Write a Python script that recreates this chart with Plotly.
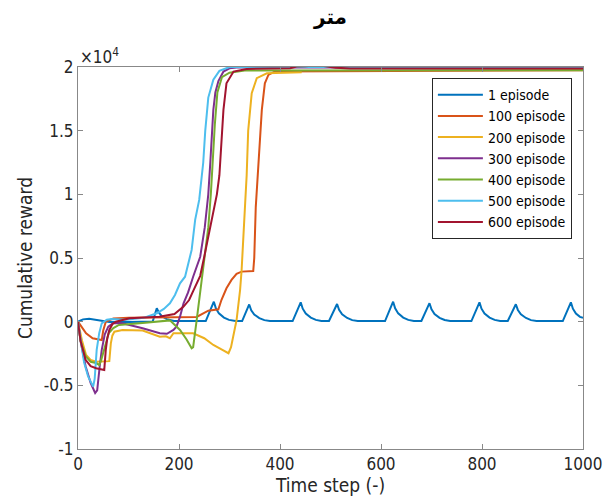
import plotly.graph_objects as go

# ---------------- data ----------------
series_names = ["1 episode", "100 episode", "200 episode", "300 episode",
                "400 episode", "500 episode", "600 episode"]

ep1_x = [0, 10, 22, 36, 50, 62, 100, 148, 156, 160, 166, 176, 190,
         253, 269, 273, 279, 289, 299, 312,
         325, 339, 343, 349, 359, 369, 380,
         425, 441, 445, 451, 461, 471, 482,
         497, 513, 517, 523, 533, 543, 554,
         608, 624, 628, 634, 644, 654, 665,
         680, 696, 700, 706, 716, 726, 737,
         779, 795, 799, 805, 815, 825, 836,
         851, 867, 871, 877, 887, 897, 908,
         960, 976, 980, 986, 994, 1000]
ep1_y = [0, 180, 220, 120, 20, -30, -20, 20, 1050, 720, 430, 200, 60,
         50, 1570, 1050, 650, 320, 140, 50,
         50, 1350, 900, 560, 280, 120, 50,
         50, 1520, 1020, 640, 320, 140, 50,
         50, 1390, 930, 580, 290, 120, 50,
         50, 1570, 1050, 650, 320, 140, 50,
         50, 1450, 970, 600, 300, 130, 50,
         50, 1520, 1020, 640, 320, 140, 50,
         50, 1370, 920, 570, 290, 120, 50,
         50, 1520, 1020, 640, 380, 300]

ep100_x = [0, 8, 16, 29, 42, 47, 50, 55, 70, 100, 235, 248, 258, 278, 284,
           294, 304, 314, 324, 347, 349, 352, 356, 360, 364, 370, 377, 390, 1000]
ep100_y = [0, -500, -910, -1300, -1380, -1440, -700, 0, 250, 300, 370, 660,
           860, 970, 1700, 2620, 3280, 3750, 3930, 3980, 5000, 9000, 11500,
           14000, 16630, 18720, 19380, 19650, 19750]

ep200_x = [0, 8, 16, 25, 36, 62, 65, 68, 72, 80, 88, 128, 162, 174, 182, 189,
           228, 250, 268, 285, 298, 303, 309, 314, 321, 324, 331, 334, 337,
           344, 354, 374, 443]
ep200_y = [0, -1500, -2620, -3000, -3140, -3100, -1700, -1100, -790, -700,
           -650, -700, -1180, -1150, -1300, -910, -910, -1300, -1830, -2200,
           -2480, -2000, -800, 130, 2500, 4060, 9300, 11500, 15000, 17940,
           19120, 19510, 19580]

ep300_x = [0, 5, 15, 25, 34, 38, 43, 47, 53, 60, 70, 88, 128, 162, 176, 189,
           195, 202, 209, 218, 228, 242, 251, 258, 262, 265, 268, 272, 278,
           288, 300, 314, 1000]
ep300_y = [0, -1500, -3500, -4800, -5600, -5400, -3500, -2220, -1000, -390,
           -100, -130, -520, -910, -950, -650, -390, 390, 1440, 2300, 3530,
           5100, 7400, 10000, 12500, 14500, 16630, 18000, 18900, 19640,
           19900, 19960, 19950]

ep400_x = [0, 5, 15, 25, 36, 42, 46, 51, 56, 61, 70, 81, 128, 162, 182, 202,
           215, 225, 228, 235, 240, 248, 258, 263, 268, 271, 276, 285, 300,
           330, 1000]
ep400_y = [0, -1500, -2700, -3150, -3250, -3400, -3000, -2220, -1500, -890,
           -500, -260, -100, 50, 100, -650, -1400, -2090, -2000, 130, 1800,
           4300, 7400, 10000, 13500, 15500, 18000, 19200, 19550, 19720, 19750]

ep500_x = [0, 5, 12, 20, 30, 33, 37, 42, 47, 57, 67, 95, 130, 156, 170, 182,
           192, 202, 212, 225, 232, 240, 248, 252, 258, 268, 280, 300, 1000]
ep500_y = [0, -1500, -3200, -4300, -5100, -4500, -2220, -900, -130, 150, 200,
           150, 300, 660, 1000, 1440, 2100, 3010, 3530, 5630, 8000, 9560,
           12500, 15000, 17600, 19000, 19700, 20000, 20000]

ep600_x = [0, 5, 15, 25, 36, 44, 52, 55, 58, 62, 68, 75, 102, 161, 191, 209,
           220, 228, 242, 250, 261, 268, 275, 280, 284, 288, 294, 308, 334,
           380, 420, 433, 450, 473, 492, 510, 539, 1000]
ep600_y = [0, -1500, -3000, -3500, -3660, -3750, -3790, -2220, -1300, -650,
           -200, 0, 270, 390, 600, 1180, 1700, 2400, 3600, 5100, 7200, 8800,
           10000, 11500, 14000, 16630, 18720, 19640, 19850, 19880, 19900,
           20030, 20050, 20150, 20030, 19950, 19880, 19880]

series_x = [ep1_x, ep100_x, ep200_x, ep300_x, ep400_x, ep500_x, ep600_x]
series_y = [ep1_y, ep100_y, ep200_y, ep300_y, ep400_y, ep500_y, ep600_y]
colors = ["#0072BD", "#D95319", "#EDB120", "#7E2F8E", "#77AC30", "#4DBEEE", "#A2142F"]

x_ticks = [0, 200, 400, 600, 800, 1000]
y_tickvals = [-10000, -5000, 0, 5000, 10000, 15000, 20000]
y_ticktext = ["-1", "-0.5", "0", "0.5", "1", "1.5", "2"]

title_text = "متر"
x_label = "Time step (-)"
y_label = "Cumulative reward"

# ---------------- figure ----------------
FONT = "DejaVu Sans Condensed, DejaVu Sans, sans-serif"
fig = go.Figure()
for name, xs, ys, c in zip(series_names, series_x, series_y, colors):
    fig.add_trace(go.Scatter(x=xs, y=ys, mode="lines", name=name,
                             line=dict(color=c, width=2)))

axis_common = dict(showline=True, linecolor="#888888", linewidth=1, mirror="allticks",
                   ticks="inside", ticklen=5, tickcolor="#888888", showgrid=False,
                   zeroline=False, automargin=False,
                   tickfont=dict(family=FONT, size=17, color="#262626"))

fig.update_layout(
    width=613, height=502,
    margin=dict(l=78, r=30, t=67, b=53, autoexpand=False),
    paper_bgcolor="white", plot_bgcolor="white",
    title=dict(text="<b>" + title_text + "</b>", x=(78 + 583) / 2 / 613, xanchor="center",
               y=1 - 17 / 502, yanchor="middle",
               font=dict(family="DejaVu Sans, sans-serif", size=20, color="black")),
    xaxis=dict(range=[0, 1000], tickvals=x_ticks,
               title=dict(text=x_label, font=dict(family=FONT, size=19, color="#262626"),
                          standoff=5),
               **axis_common),
    yaxis=dict(range=[-10000, 20000], tickvals=y_tickvals, ticktext=y_ticktext,
               title=dict(text=y_label, font=dict(family=FONT, size=19, color="#262626"),
                          standoff=6),
               **axis_common),
    legend=dict(x=0.978, y=0.971, xanchor="right", yanchor="top",
                bgcolor="white", bordercolor="#262626", borderwidth=1,
                font=dict(family=FONT, size=14, color="black"),
                itemwidth=45, tracegroupgap=0),
    showlegend=True,
)
fig.add_annotation(xref="paper", yref="paper", x=0, y=1, xanchor="left", yanchor="bottom",
                   text="×10<sup>4</sup>", showarrow=False, yshift=-2,
                   font=dict(family=FONT, size=17, color="#262626"))

fig.write_html("out.html")
